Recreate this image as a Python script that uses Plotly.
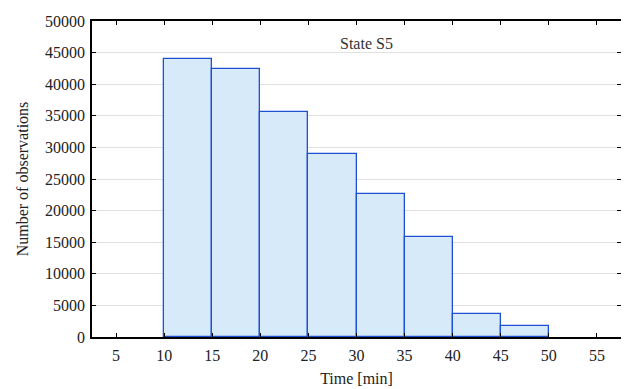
import plotly.graph_objects as go

bin_starts = [10, 15, 20, 25, 30, 35, 40, 45]
bin_width = 5
counts = [44000, 42400, 35600, 28900, 22600, 15900, 3700, 1800]
x_ticks = [5, 10, 15, 20, 25, 30, 35, 40, 45, 50, 55]
y_ticks = [0, 5000, 10000, 15000, 20000, 25000, 30000, 35000, 40000, 45000, 50000]

centers = [s + bin_width / 2 for s in bin_starts]

fig = go.Figure()
fig.add_trace(go.Bar(
    x=centers, y=counts, width=[bin_width] * len(centers),
    marker=dict(color="rgb(214,234,250)", line=dict(color="rgb(30,80,210)", width=1.3)),
))

font = "Liberation Serif, DejaVu Serif, serif"
fig.update_layout(
    width=621, height=381,
    margin=dict(l=84, r=8, t=13, b=52),
    plot_bgcolor="white", paper_bgcolor="white",
    showlegend=False, bargap=0,
    font=dict(family=font, size=16, color="#222"),
    annotations=[dict(x=31.0, y=46500, text="State S5", showarrow=False,
                      font=dict(family=font, size=16, color="#333"))],
)
fig.update_xaxes(
    range=[2.5, 57.5], tickvals=x_ticks, ticktext=[str(v) for v in x_ticks],
    showline=True, linecolor="black", linewidth=1.5, mirror="ticks",
    ticks="inside", ticklen=4, tickcolor="black", showgrid=False, zeroline=False,
    automargin=False, ticklabelstandoff=3,
    title=dict(text="Time [min]", standoff=10, font=dict(family=font, size=16)),
)
fig.update_yaxes(
    range=[0, 50000], tickvals=y_ticks, ticktext=[str(v) for v in y_ticks],
    showline=True, linecolor="black", linewidth=1.5, mirror="ticks",
    ticks="inside", ticklen=4, tickcolor="black",
    showgrid=True, gridcolor="#e0e0e0", gridwidth=1, zeroline=False,
    automargin=False, ticklabelstandoff=2,
    title=dict(text="Number of observations", standoff=12, font=dict(family=font, size=16)),
)
fig.write_html("out.html")
